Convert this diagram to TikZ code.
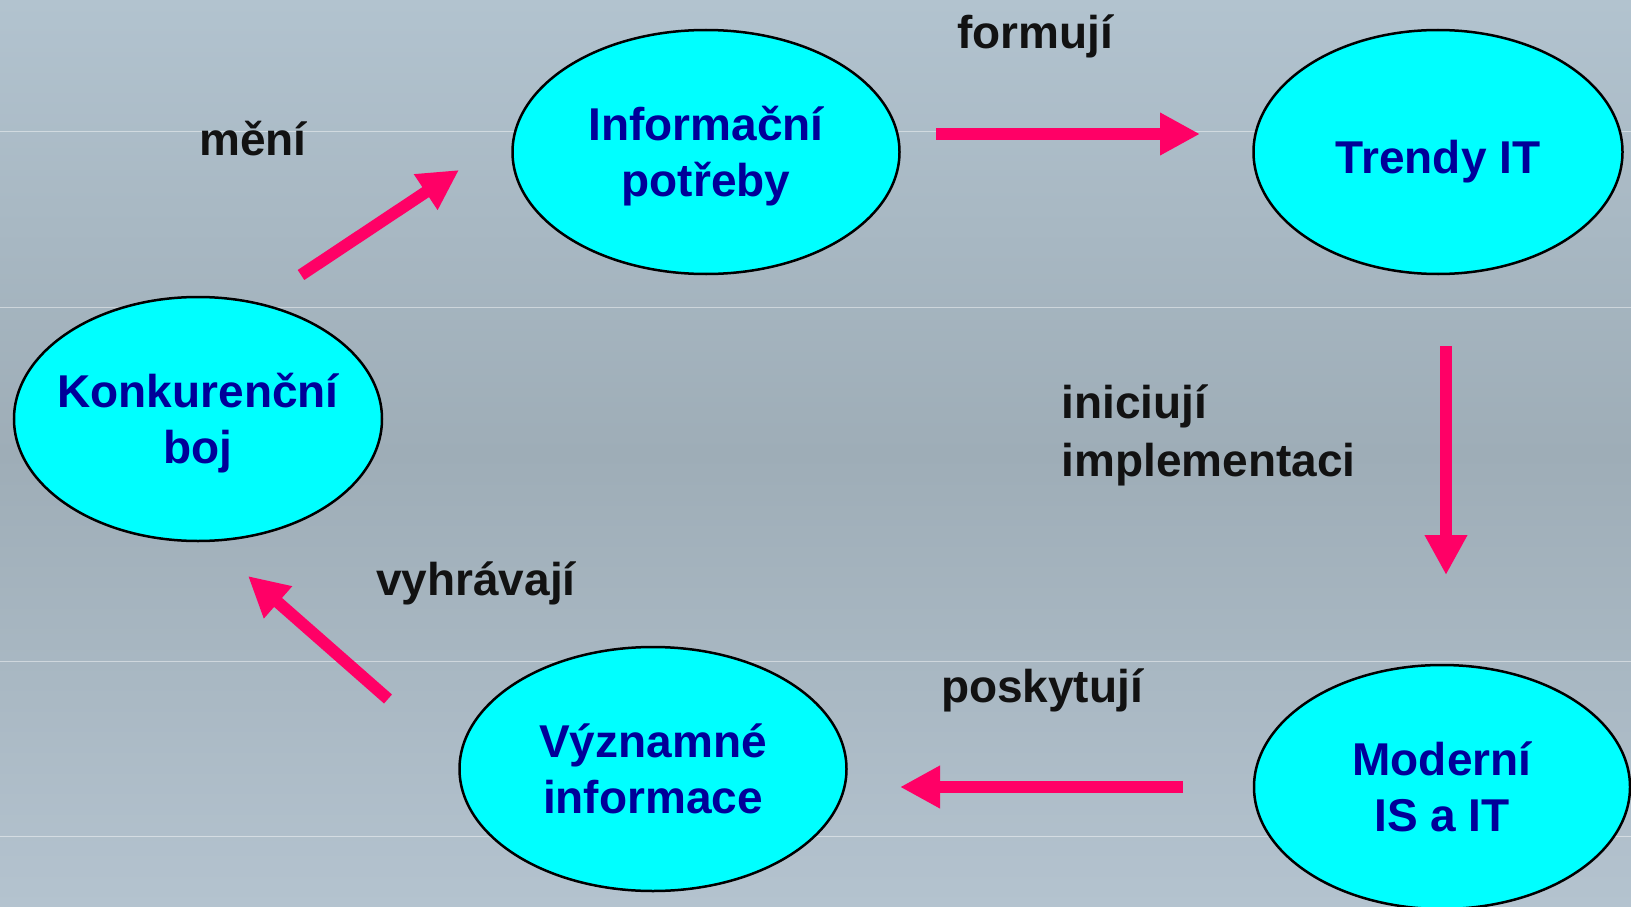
\documentclass[tikz,border=0pt]{standalone}
\usepackage{fontspec}
\setmainfont{Liberation Sans}
\usepackage{tikz}
\usetikzlibrary{arrows.meta, positioning, shapes.geometric}

\definecolor{bubblecyan}{HTML}{00FFFF}
\definecolor{bubbletext}{HTML}{000099}
\definecolor{flowpink}{HTML}{FF0066}
\definecolor{bgtop}{HTML}{B2C3CF}
\definecolor{bgmid}{HTML}{9EADB7}
\definecolor{bgbottom}{HTML}{B4C3CF}

\begin{document}
\begin{tikzpicture}[x=1pt, y=-1pt,
      bubble/.style={ellipse, draw, line width=2.5pt, fill=bubblecyan, text=bubbletext,
        font=\fontsize{46}{56}\selectfont\bfseries, align=center,
        inner xsep=-60pt, inner ysep=0pt, minimum height=244pt},
      flow/.style={-{Triangle[width=40pt, length=40pt]}, line width=12pt, draw=flowpink},
      relation/.style={font=\fontsize{46}{58}\selectfont\bfseries, text=black!93, anchor=base},
      stripe/.style={white, opacity=0.45, line width=1pt}
    ]
    % background
    \shade[top color=bgtop, bottom color=bgbottom, middle color=bgmid] (0,0) rectangle (1631,907);
    \useasboundingbox (0,0) rectangle (1631,907);
    \foreach \yy in {131, 307, 661, 836}
      \draw[stripe] (0,\yy) -- (1631,\yy);

    % bubbles
    \node[bubble, minimum width=368pt, text depth=2pt] (konkurence) at (198,419) {Konkurenční\\boj};
    \node[bubble, minimum width=387pt, text depth=2pt] (potreby) at (706,152) {Informační\\potřeby};
    \node[bubble, minimum width=369pt, text height=42pt, text depth=0pt] (trendy) at (1438,152) {Trendy IT};
    \node[bubble, minimum width=376pt] (moderni) at (1442,787) {Moderní\\IS a IT};
    \node[bubble, minimum width=387pt] (vyznamne) at (653,769) {Významné\\informace};

    % arrow ends
    \coordinate (meni-a) at (301,275);
    \coordinate (meni-b) at (459,170);
    \coordinate (formuji-a) at (936,134);
    \coordinate (formuji-b) at (1200,134);
    \coordinate (iniciuji-a) at (1446,346);
    \coordinate (iniciuji-b) at (1446,575);
    \coordinate (poskytuji-a) at (1183,787);
    \coordinate (poskytuji-b) at (900,787);
    \coordinate (vyhravaji-a) at (388,699);
    \coordinate (vyhravaji-b) at (248,576);

    \draw[flow] (meni-a) -- (meni-b);
    \draw[flow] (formuji-a) -- (formuji-b);
    \draw[flow] (iniciuji-a) -- (iniciuji-b);
    \draw[flow] (poskytuji-a) -- (poskytuji-b);
    \draw[flow] (vyhravaji-a) -- (vyhravaji-b);

    % relation labels
    \node[relation] (meni) at (253,155) {mění};
    \node[relation] (formuji) at (1035,49) {formují};
    \node[relation, anchor=base west, align=left] (iniciuji) at (1058,476) {iniciují\\implementaci};
    \node[relation] (poskytuji) at (1042,702) {poskytují};
    \node[relation] (vyhravaji) at (476,595) {vyhrávají};
  \end{tikzpicture}
\end{document}
